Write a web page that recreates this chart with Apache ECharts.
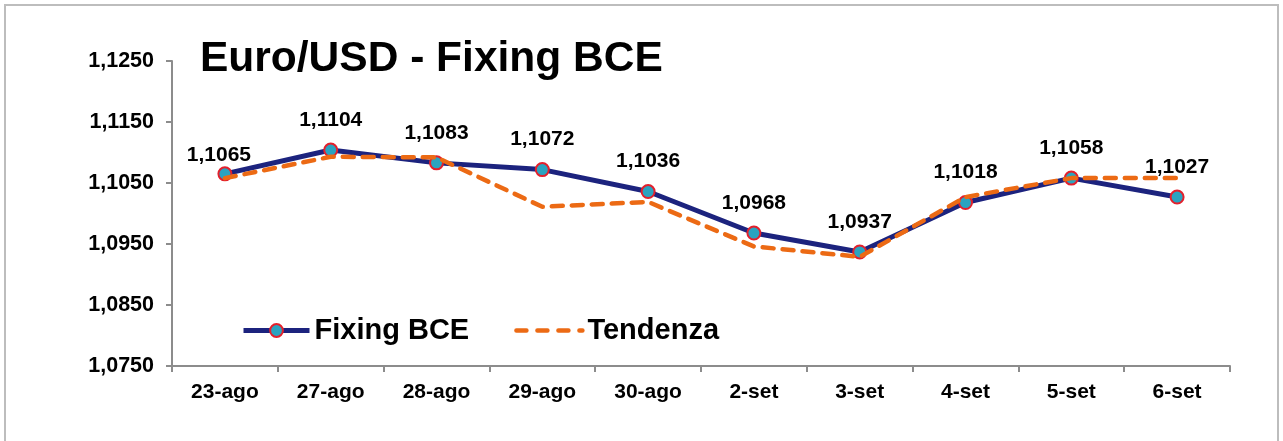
<!DOCTYPE html>
<html><head><meta charset="utf-8">
<script src="https://cdn.jsdelivr.net/npm/echarts@6/dist/echarts.min.js"></script>
<style>html,body{margin:0;padding:0;background:#fff}#c{width:1283px;height:441px}</style>
</head><body><div id="c"></div>
<script>
const categories = ['23-ago','27-ago','28-ago','29-ago','30-ago','2-set','3-set','4-set','5-set','6-set'];
const fixingBCE = [1.1065,1.1104,1.1083,1.1072,1.1036,1.0968,1.0937,1.1018,1.1058,1.1027];
const tendenza = [1.1058,1.1093,1.1092,1.1011,1.1019,1.0946,1.0929,1.1027,1.1058,1.1058];
const yMin = 1.075, yMax = 1.125, yStep = 0.01;

const fmt = v => v.toFixed(4).replace('.', ',');
const font = 'Liberation Sans, Arial, sans-serif';
const navy = '#1C237E', orange = '#EC6A14';
const chart = echarts.init(document.getElementById('c'));
chart.setOption({
  animation: false,
  backgroundColor: '#fff',
  graphic: [{type:'rect', shape:{x:5,y:5,width:1273,height:445}, style:{fill:'none', stroke:'#BDBDBD', lineWidth:2}, silent:true}],
  title: {text:'Euro/USD - Fixing BCE', left:195, top:33, textStyle:{fontFamily:font, fontWeight:'bold', fontSize:42.5, color:'#000'}},
  legend: {left:236, top:311, itemWidth:66, itemHeight:16, itemGap:45,
    textStyle:{fontFamily:font, fontWeight:'bold', fontSize:29, color:'#000'},
    data:[
      {name:'Fixing BCE', icon:'inherit', lineStyle:{width:5, color:navy}},
      {name:'Tendenza', icon:'inherit', itemStyle:{opacity:0}, lineStyle:{width:4.5, color:orange, type:[10,11], cap:'round'}}
    ]},
  grid: {left:172, right:53, top:61, bottom:75},
  xAxis: {type:'category', data:categories, boundaryGap:true,
    axisLine:{lineStyle:{color:'#8C8C8C', width:2}},
    axisTick:{show:true, length:6, lineStyle:{color:'#8C8C8C', width:2}},
    axisLabel:{fontFamily:font, fontWeight:'bold', fontSize:21, color:'#000', margin:16}},
  yAxis: {type:'value', min:yMin, max:yMax, interval:yStep,
    splitLine:{show:false},
    axisLine:{show:true, lineStyle:{color:'#8C8C8C', width:2}},
    axisTick:{show:true, length:6, lineStyle:{color:'#8C8C8C', width:2}},
    axisLabel:{fontFamily:font, fontWeight:'bold', fontSize:21.5, color:'#000', margin:18, formatter: fmt}},
  series: [
    {name:'Fixing BCE', type:'line', data: fixingBCE.map((v,i)=> i===0 ? {value:v, label:{distance:1, offset:[-6,0]}} : v),
     z:3, symbol:'circle', symbolSize:13,
     lineStyle:{color:navy, width:5},
     itemStyle:{color:'#2AA3C0', borderColor:'#E3202C', borderWidth:2},
     label:{show:true, position:'top', distance:12, fontFamily:font, fontWeight:'bold', fontSize:21, color:'#000', formatter: p => fmt(p.value)}},
    {name:'Tendenza', type:'line', data: tendenza, z:4, symbol:'none',
     itemStyle:{color:orange},
     lineStyle:{color:orange, width:4.5, type:[11,9], cap:'round'}}
  ]
});
</script></body></html>
